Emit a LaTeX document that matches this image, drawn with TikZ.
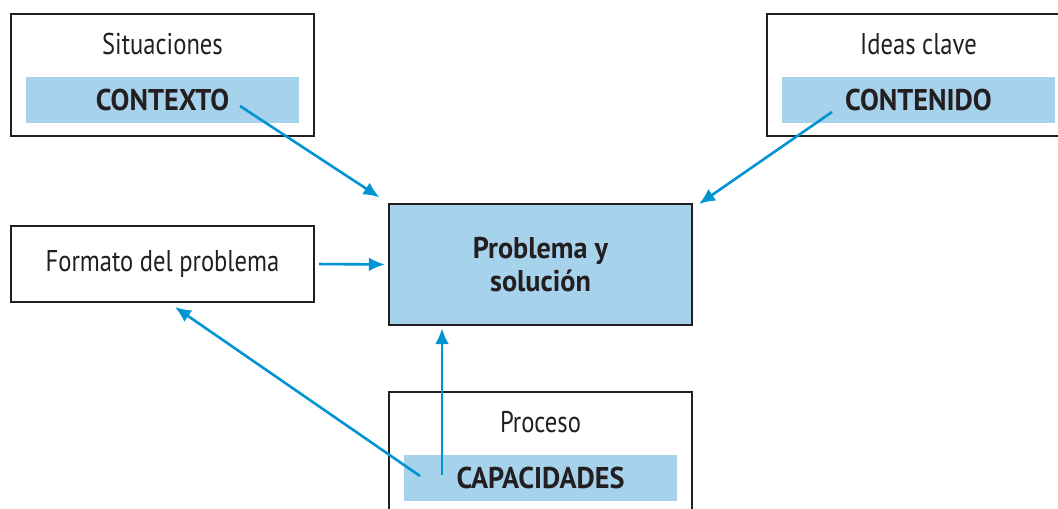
\documentclass[tikz,border=0pt]{standalone}
\usepackage{fontspec}
\setmainfont{PT Sans}[UprightFeatures={FakeStretch=0.82}, BoldFeatures={FakeStretch=0.94}]
\usetikzlibrary{arrows.meta}
\definecolor{bandblue}{HTML}{A7D2EB}
\definecolor{arrowblue}{HTML}{0094D3}
\definecolor{inkblack}{HTML}{231F20}
\newcommand{\diagfont}{\fontsize{15}{16.5}\selectfont}
\tikzset{
	outerbox/.style={draw=inkblack, line width=1.2pt, minimum width=151.5pt, inner sep=0pt},
	bandbox/.style={fill=bandblue, minimum width=136.5pt, minimum height=23pt, inner sep=0pt, font=\diagfont\bfseries},
	plain/.style={text=inkblack, inner sep=0pt},
	link/.style={draw=arrowblue, line width=1.3pt, -{Latex[length=8pt,width=7pt]}}
}
\begin{document}
\begin{tikzpicture}[x=0.5pt,y=-0.5pt, every node/.style={text=inkblack}, font=\diagfont]
		\useasboundingbox (0,0) rectangle (1058,508);
		% upper boxes
		\node[outerbox, minimum height=61pt] (sit) at (162.5,75) {};
		\node[plain] (sittxt) at (162.5,44) {Situaciones};
		\node[bandbox] (ctx) at (162.5,100) {CONTEXTO};
		\node[outerbox, minimum height=61pt] (ide) at (918.5,75) {};
		\node[plain] (idetxt) at (918.5,44) {Ideas clave};
		\node[bandbox] (cnt) at (918.5,100) {CONTENIDO};
		% middle row
		\node[outerbox, minimum height=38pt] (fmt) at (162.5,264) {Formato del problema};
		\node[outerbox, minimum height=60.5pt, fill=bandblue, align=center, font=\diagfont\bfseries] (prob) at (540.5,264.5) {Problema y\\solución};
		% lower box
		\node[outerbox, minimum height=61pt] (pro) at (540.5,453) {};
		\node[plain] (protxt) at (540.5,422) {Proceso};
		\node[bandbox] (cap) at (540.5,477.5) {CAPACIDADES};
		% arrow ends
		\coordinate (ctxout) at (240,106);
		\coordinate (cntout) at (832,112);
		\coordinate (cntin) at (699,204);
		\coordinate (capup) at (442,475);
		\coordinate (capleft) at (420,476);
		\coordinate (fmtin) at (175,307);
		\draw[link, shorten >=5pt] (ctxout) -- (prob.north west);
		\draw[link] (cntout) -- (cntin);
		\draw[link, shorten <=2pt, shorten >=1.5pt] (fmt.east) -- (prob.west);
		\draw[link, shorten >=1pt] (capup) -- (capup |- prob.south);
		\draw[link] (capleft) -- (fmtin);
	\end{tikzpicture}
\end{document}
